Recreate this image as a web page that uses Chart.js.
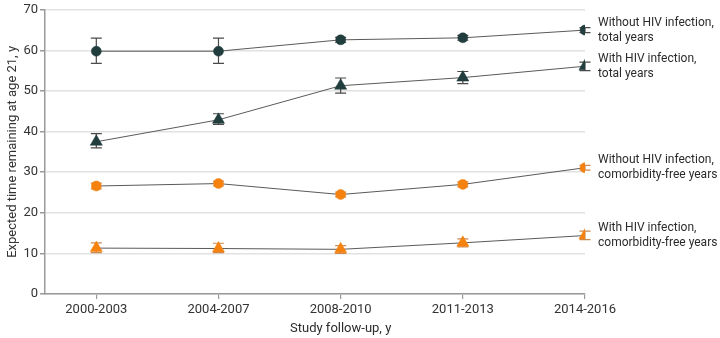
<!DOCTYPE html>
<html>
<head>
<meta charset="utf-8">
<script src="https://cdn.jsdelivr.net/npm/chart.js@4/dist/chart.umd.min.js"></script>
<style>
  html, body { margin: 0; padding: 0; background: #fff; }
  #wrap { width: 720px; height: 338px; }
</style>
</head>
<body>
<div id="wrap"><canvas id="myChart"></canvas></div>
<script>
// follow-up periods
var periods = ['2000-2003', '2004-2007', '2008-2010', '2011-2013', '2014-2016'];

// expected years remaining at age 21, with 95% CI
var noHivTotal    = [59.8, 59.8, 62.6, 63.1, 65.0];
var noHivTotalLo  = [56.8, 56.8, 62.0, 62.5, 64.4];
var noHivTotalHi  = [63.0, 63.0, 63.2, 63.7, 65.6];

var hivTotal      = [37.5, 42.9, 51.3, 53.3, 56.1];
var hivTotalLo    = [36.0, 41.8, 49.5, 51.8, 55.0];
var hivTotalHi    = [39.5, 44.4, 53.2, 54.8, 57.1];

var noHivFree     = [26.6, 27.2, 24.5, 27.0, 31.1];
var noHivFreeLo   = [25.9, 26.6, 23.9, 26.4, 30.5];
var noHivFreeHi   = [27.3, 27.8, 25.1, 27.6, 31.7];

var hivFree       = [11.3, 11.2, 11.0, 12.6, 14.4];
var hivFreeLo     = [10.2, 10.2, 10.0, 11.6, 13.4];
var hivFreeHi     = [12.6, 12.5, 11.9, 13.6, 15.5];

var seriesNames = [
  ['Without HIV infection,', 'total years'],
  ['With HIV infection,', 'total years'],
  ['Without HIV infection,', 'comorbidity-free years'],
  ['With HIV infection,', 'comorbidity-free years']
];

var FONT = 'Roboto, "DejaVu Sans", sans-serif';
var dark = '#213d3d';
var orange = '#f5820f';

function pts(vals) {
  return vals.map(function(v, i) { return {x: i, y: v}; });
}

function series(label, vals, lo, hi, color, shape, r) {
  return {
    label: label,
    data: pts(vals),
    lo: lo,
    hi: hi,
    borderColor: '#5a5a5a',
    borderWidth: 1,
    pointStyle: shape,
    pointRadius: r,
    pointBackgroundColor: color,
    pointBorderColor: color,
    pointBorderWidth: 0.5,
    errColor: color === dark ? '#4a4a4a' : '#c98a55',
    tension: 0
  };
}

// whiskers for the confidence intervals
var errorBars = {
  id: 'errorBars',
  beforeDatasetsDraw: function(chart) {
    var ctx = chart.ctx, ys = chart.scales.y;
    chart.data.datasets.forEach(function(ds, di) {
      var meta = chart.getDatasetMeta(di);
      ctx.save();
      ctx.strokeStyle = ds.errColor;
      ctx.lineWidth = 1.2;
      meta.data.forEach(function(p, i) {
        var top = ys.getPixelForValue(ds.hi[i]);
        var bot = ys.getPixelForValue(ds.lo[i]);
        ctx.beginPath();
        ctx.moveTo(p.x, top); ctx.lineTo(p.x, bot);
        ctx.moveTo(p.x - 5.5, top); ctx.lineTo(p.x + 5.5, top);
        ctx.moveTo(p.x - 5.5, bot); ctx.lineTo(p.x + 5.5, bot);
        ctx.stroke();
      });
      ctx.restore();
    });
  }
};

// series names beside the last point, x axis title under the middle period
var labels = {
  id: 'labels',
  afterDraw: function(chart) {
    var ctx = chart.ctx;
    ctx.save();
    ctx.fillStyle = '#2b2b2b';
    ctx.font = '12px ' + FONT;
    ctx.textBaseline = 'middle';
    ctx.textAlign = 'left';
    chart.data.datasets.forEach(function(ds, di) {
      var meta = chart.getDatasetMeta(di);
      var last = meta.data[meta.data.length - 1];
      var lines = seriesNames[di];
      ctx.fillText(lines[0], 598, last.y - 7.5);
      ctx.fillText(lines[1], 598, last.y + 7.5);
    });
    ctx.font = '13px ' + FONT;
    ctx.textAlign = 'center';
    ctx.fillText('Study follow-up, y', chart.scales.x.getPixelForValue(2), 329);
    ctx.restore();
  }
};

var ctx = document.getElementById('myChart').getContext('2d');
var myChart = new Chart(ctx, {
  type: 'line',
  data: {
    datasets: [
      series('Without HIV infection, total years', noHivTotal, noHivTotalLo, noHivTotalHi, dark, 'circle', 5),
      series('With HIV infection, total years', hivTotal, hivTotalLo, hivTotalHi, dark, 'triangle', 7),
      series('Without HIV infection, comorbidity-free years', noHivFree, noHivFreeLo, noHivFreeHi, orange, 'circle', 5),
      series('With HIV infection, comorbidity-free years', hivFree, hivFreeLo, hivFreeHi, orange, 'triangle', 7)
    ]
  },
  options: {
    responsive: true,
    maintainAspectRatio: false,
    animation: false,
    layout: { padding: { top: 9, right: 135, left: 0, bottom: 0 } },
    plugins: {
      legend: { display: false },
      tooltip: { enabled: false }
    },
    scales: {
      x: {
        type: 'linear',
        min: -0.42,
        max: 4,
        afterBuildTicks: function(scale) {
          scale.ticks = periods.map(function(p, i) { return {value: i}; });
        },
        afterFit: function(scale) { scale.height = 44; },
        ticks: {
          callback: function(v) { return periods[v]; },
          color: '#333',
          font: { family: FONT, size: 13 },
          padding: 3,
          maxRotation: 0,
          autoSkip: false
        },
        grid: { drawOnChartArea: false, tickLength: 5, tickColor: '#999', lineWidth: 1.2 },
        border: { color: '#9a9a9a', width: 1.5 }
      },
      y: {
        min: 0,
        max: 70,
        afterFit: function(scale) { scale.width = 45; },
        ticks: {
          stepSize: 10,
          color: '#333',
          font: { family: FONT, size: 13 },
          padding: 2
        },
        title: {
          display: true,
          text: 'Expected time remaining at age 21, y',
          color: '#333',
          font: { family: FONT, size: 13 },
          padding: { top: 5, bottom: 0 }
        },
        grid: { color: '#e2e2e2', lineWidth: 1.5, tickLength: 5, tickColor: '#999' },
        border: { color: '#9a9a9a', width: 1.5 }
      }
    }
  },
  plugins: [errorBars, labels]
});
</script>
</body>
</html>
